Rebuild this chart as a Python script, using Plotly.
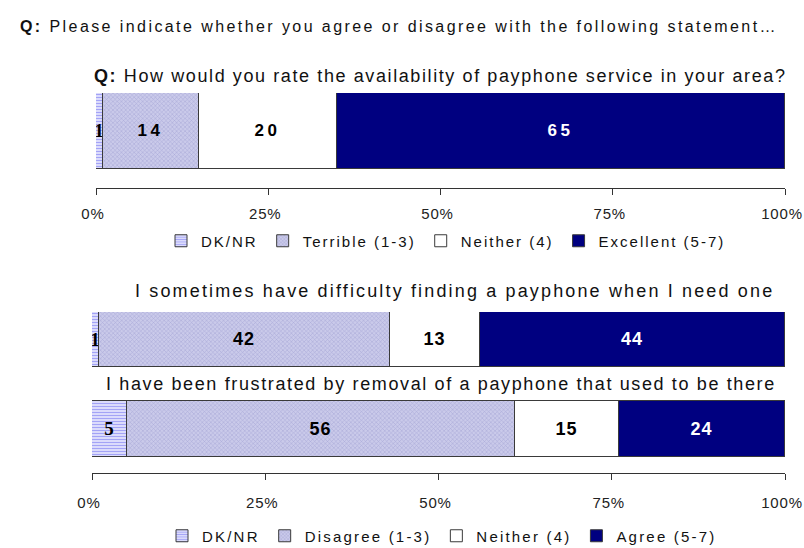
import plotly.graph_objects as go

# ---------------- data ----------------
header_q = "Q:"
header_text = "Please indicate whether you agree or disagree with the following statement…"

top_q = "Q:"
top_question = "How would you rate the availability of payphone service in your area?"
top_categories = ["Availability of payphone service"]
top_series = ["DK/NR", "Terrible (1-3)", "Neither (4)", "Excellent (5-7)"]
top_dknr = [1]
top_terrible = [14]
top_neither = [20]
top_excellent = [65]

bottom_statements = [
    "I have been frustrated by removal of a payphone that used to be there",
    "I sometimes have difficulty finding a payphone when I need one",
]
bottom_series = ["DK/NR", "Disagree (1-3)", "Neither (4)", "Agree (5-7)"]
bot_dknr = [5, 1]
bot_disagree = [56, 42]
bot_neither = [15, 13]
bot_agree = [24, 44]

tick_values = [0, 25, 50, 75, 100]
tick_labels = ["0%", "25%", "50%", "75%", "100%"]

# ---------------- styles ----------------
W, H = 804, 548
FONT = "Liberation Sans"
OUTLINE = dict(color="#3a3a3a", width=1)

styles = [
    dict(color="#ffffff", pattern=dict(shape="-", fgcolor="#4848ee", bgcolor="#ffffff", size=3, solidity=0.6)),
    dict(color="#c4c4e6", pattern=dict(shape="x", fgcolor="#8080c0", bgcolor="#cacaea", size=3, solidity=0.3)),
    dict(color="#ffffff"),
    dict(color="#000080"),
]
text_colors = ["black", "black", "black", "white"]
text_fonts = ["Liberation Serif", FONT, FONT, FONT]


def sp(text, px):
    return f'<span style="letter-spacing:{px}px">{text}</span>'


def px_x(p):
    return p / W


def px_y(p):
    return 1 - p / H


fig = go.Figure()

top_values = [top_dknr, top_terrible, top_neither, top_excellent]
for i, (name, vals) in enumerate(zip(top_series, top_values)):
    fig.add_trace(go.Bar(
        x=vals, y=top_categories, orientation="h", name=sp(name, 2.0),
        xaxis="x", yaxis="y", width=1,
        marker=dict(line=OUTLINE, **styles[i]),
        texttemplate=sp("%{x}", 0 if i == 0 else 3.5), textposition="inside", insidetextanchor="middle",
        textangle=0, constraintext="none",
        textfont=dict(family=text_fonts[i], size=17 if i else 19, color=text_colors[i], weight="bold"),
        legend="legend", hoverinfo="x",
    ))

bot_values = [bot_dknr, bot_disagree, bot_neither, bot_agree]
for i, (name, vals) in enumerate(zip(bottom_series, bot_values)):
    fig.add_trace(go.Bar(
        x=vals, y=bottom_statements, orientation="h", name=sp(name, 2.2),
        xaxis="x2", yaxis="y2", width=0.62,
        marker=dict(line=OUTLINE, **styles[i]),
        texttemplate=sp("%{x}", 0 if i == 0 else 1), textposition="inside", insidetextanchor="middle",
        textangle=0, constraintext="none",
        textfont=dict(family=text_fonts[i], size=18 if i else 19, color=text_colors[i], weight="bold"),
        legend="legend2", hoverinfo="x",
    ))


def x_axis(domain, anchor, standoff):
    return dict(
        domain=domain, anchor=anchor, automargin=False,
        range=[0, 100], tickvals=tick_values, ticktext=[sp(t, 0.8) for t in tick_labels],
        showgrid=False, zeroline=False, showline=True, linecolor="#333333", linewidth=1,
        ticks="outside", ticklen=6, tickcolor="#333333",
        tickfont=dict(family=FONT, size=15, color="#222222"),
        ticklabelstandoff=standoff, ticklabelshift=-3, ticklabeloverflow="allow", fixedrange=True,
    )


legend_common = dict(orientation="h", xanchor="center", yanchor="middle",
                     font=dict(family=FONT, size=15, color="#111111"), traceorder="normal",
                     itemclick=False, itemdoubleclick=False, bgcolor="rgba(0,0,0,0)")

fig.update_layout(
    width=W, height=H,
    margin=dict(l=0, r=0, t=0, b=0, autoexpand=False),
    paper_bgcolor="white", plot_bgcolor="white",
    barmode="stack", bargap=0,
    font=dict(family=FONT, size=16, color="#111111"),
    xaxis=x_axis([px_x(96), px_x(785)], "y", 6),
    yaxis=dict(domain=[px_y(188), px_y(93)], anchor="x", range=[-0.75, 0.5], automargin=False,
               showticklabels=False, showgrid=False, zeroline=False, showline=False, fixedrange=True),
    xaxis2=x_axis([px_x(92), px_x(785)], "y2", 10),
    yaxis2=dict(domain=[px_y(473), px_y(312)], anchor="x2", range=[-0.4916, 1.31], automargin=False,
                categoryorder="array", categoryarray=bottom_statements,
                showticklabels=False, showgrid=False, zeroline=False, showline=False, fixedrange=True),
    legend=dict(x=px_x(446), y=px_y(241), **legend_common),
    legend2=dict(x=px_x(442), y=px_y(536), **legend_common),
    showlegend=True,
)

annotations = [
    dict(text=sp(f"<b>{header_q}</b> {header_text}", 2.42), xref="paper", yref="paper", x=px_x(399), y=px_y(27),
         xanchor="center", yanchor="middle", showarrow=False,
         font=dict(family=FONT, size=16, color="#111111")),
    dict(text=sp(f"<b>{top_q}</b> {top_question}", 1.6), xref="x domain", yref="y", x=0.5, y=top_categories[0],
         yshift=55, xanchor="center", yanchor="middle", showarrow=False,
         font=dict(family=FONT, size=18, color="#111111")),
    dict(text=sp(bottom_statements[1], 2.15), xref="paper", yref="y2", x=px_x(455), y=bottom_statements[1],
         yshift=49, xanchor="center", yanchor="middle", showarrow=False,
         font=dict(family=FONT, size=18, color="#111111")),
    dict(text=sp(bottom_statements[0], 1.63), xref="paper", yref="y2", x=px_x(441), y=bottom_statements[0],
         yshift=45, xanchor="center", yanchor="middle", showarrow=False,
         font=dict(family=FONT, size=18, color="#111111")),
]
fig.update_layout(annotations=annotations)

fig.write_html(
    "out.html",
    config={"displayModeBar": False},
    post_script="document.body.style.margin='0';document.body.style.overflow='hidden';",
)
